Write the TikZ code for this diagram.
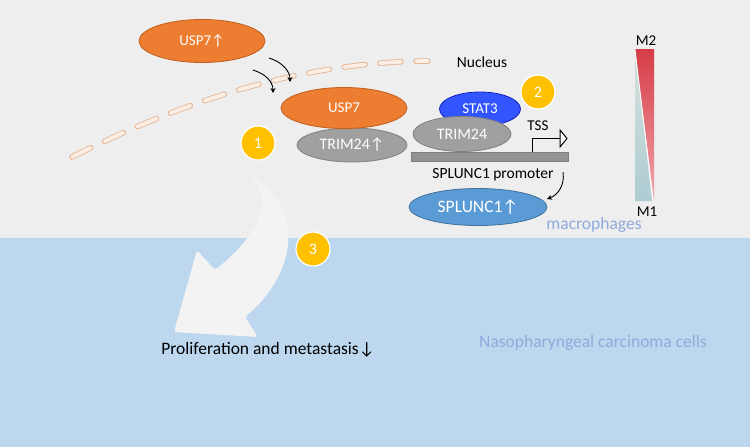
\documentclass[tikz,border=0pt]{standalone}
\usepackage{fontspec}
\setmainfont{Carlito}
\usetikzlibrary{arrows.meta,shapes.geometric}
\definecolor{bgtop}{HTML}{EEEEEE}
\definecolor{bgbot}{HTML}{BDD7EE}
\definecolor{orng}{HTML}{ED7D31}
\definecolor{orngd}{HTML}{C05E1C}
\definecolor{gry}{HTML}{A0A0A0}
\definecolor{gryd}{HTML}{808080}
\definecolor{stblue}{HTML}{3355FF}
\definecolor{stblued}{HTML}{1020C0}
\definecolor{splblue}{HTML}{5B9BD5}
\definecolor{splblued}{HTML}{41719C}
\definecolor{yel}{HTML}{FFC000}
\definecolor{lbtxt}{HTML}{8FAADC}
\definecolor{dashout}{HTML}{E3B796}
\definecolor{dashin}{HTML}{FCEEE4}
\definecolor{arrw}{HTML}{F3F3F3}
\definecolor{redtop}{HTML}{D63C46}
\definecolor{redbot}{HTML}{F2A6AC}
\definecolor{tealtop}{HTML}{D8E2DC}
\definecolor{tealbot}{HTML}{ADCCD3}
\tikzset{
  prot/.style={ellipse, draw, line width=0.8pt, inner sep=0pt, text=white, font=\fontsize{15}{17}\selectfont},
  num/.style={circle, fill=yel, draw=white, line width=1.2pt, minimum size=34pt, inner sep=0pt, text=white, font=\fontsize{16}{18}\selectfont},
  lbl/.style={font=\fontsize{15.5}{17}\selectfont, inner sep=0pt},
  smallarr/.style={-{Stealth[length=5pt,width=5pt]}, line width=0.9pt, black},
  membrane/.style={line cap=round, dash pattern=on 21pt off 15pt},
}
\begin{document}
\begin{tikzpicture}[x=1pt,y=-1pt]
\useasboundingbox (0,0) rectangle (750,447);
% backgrounds
\fill[bgtop] (0,0) rectangle (750,238);
\fill[bgbot] (0,238) rectangle (750,447);
% big white arrow
\fill[arrw, rounded corners=3pt] (250,175) .. controls (300,205) and (302,268) .. (245,317)
  -- (258,337) -- (174,332) -- (197,250) -- (215,270)
  .. controls (262,232) and (272,200) .. (250,175) -- cycle;
% nucleus dashed membrane
\draw[membrane, dashout, line width=5.5pt]
  (72,157) .. controls (170,108) and (290,62) .. (428,61);
\draw[membrane, dashin, line width=3.8pt]
  (72,157) .. controls (170,108) and (290,62) .. (428,61);
% nodes
\node[prot, fill=orng, draw=orngd, minimum width=126pt, minimum height=43pt] (usp7up) at (202,41) {USP7↑};
\node[prot, fill=gry, draw=gryd, minimum width=110pt, minimum height=34pt, font=\fontsize{16}{18}\selectfont] (trimup) at (352,145) {TRIM24↑};
\node[prot, fill=orng, draw=orngd, minimum width=126pt, minimum height=41pt] (usp7) at (344,108) {USP7};
\node[prot, fill=stblue, draw=stblued, minimum width=81pt, minimum height=34pt] (stat3) at (480,109) {STAT3};
\node[prot, fill=gry, draw=gryd, minimum width=98pt, minimum height=35pt, font=\fontsize{16}{18}\selectfont] (trim) at (462,134) {TRIM24};
\node[draw=gryd, fill=gryd!85!white, line width=0.8pt, minimum width=157pt, minimum height=9pt, inner sep=0pt] (prom) at (489.5,156.5) {};
\node[prot, fill=splblue, draw=splblued, minimum width=138pt, minimum height=37pt, font=\fontsize{17.5}{19}\selectfont] (spl) at (478,207) {SPLUNC1↑};
\node[num] (n1) at (258,143) {1};
\node[num] (n2) at (538,92) {2};
\node[num] (n3) at (313,249) {3};
% labels
\node[lbl] (nuc) at (482,62) {Nucleus};
\node[lbl, font=\fontsize{15}{17}\selectfont] (tss) at (538,126) {TSS};
\node[lbl] (promlbl) at (493,175) {SPLUNC1 promoter};
\node[lbl, text=lbtxt, font=\fontsize{17.5}{19}\selectfont] (mac) at (594,225) {macrophages};
\node[lbl, text=lbtxt, font=\fontsize{17.5}{19}\selectfont] (npc) at (593,343) {Nasopharyngeal carcinoma cells};
\node[lbl, font=\fontsize{17.5}{19}\selectfont] (prolif) at (268,350) {Proliferation and metastasis↓};
% TSS arrow
\coordinate (tssa) at (532,152);
\coordinate (tssb) at (532,138.5);
\coordinate (tssc) at (560,138.5);
\draw[line width=1pt] (tssa) -- (tssb) -- (tssc);
\draw[line width=1pt, fill=white, line join=miter] (560,130) -- (567,138.5) -- (560,147) -- cycle;
% small arrows
\coordinate (a1s) at (253,70);
\coordinate (a1e) at (273,93);
\coordinate (a2s) at (269,58);
\coordinate (a2e) at (290,82);
\draw[smallarr] (a1s) .. controls (266,74) and (273,82) .. (a1e);
\draw[smallarr] (a2s) .. controls (282,62) and (290,71) .. (a2e);
\coordinate (a3s) at (563,172);
\coordinate (a3e) at (547,199);
\draw[smallarr] (a3s) .. controls (565,185) and (558,195) .. (a3e);
% M2/M1 bar
\shade[top color=redtop, bottom color=redbot] (635,49) -- (654,49) -- (654,201) -- cycle;
\shade[top color=tealtop, bottom color=tealbot] (635,49) -- (652,201) -- (635,201) -- cycle;
\draw[white, line width=0.8pt] (635,49) -- (653,201);
\node[lbl, font=\fontsize{15}{17}\selectfont] (m2) at (646,41) {M2};
\node[lbl, font=\fontsize{15}{17}\selectfont] (m1) at (647,212) {M1};
\end{tikzpicture}
\end{document}
